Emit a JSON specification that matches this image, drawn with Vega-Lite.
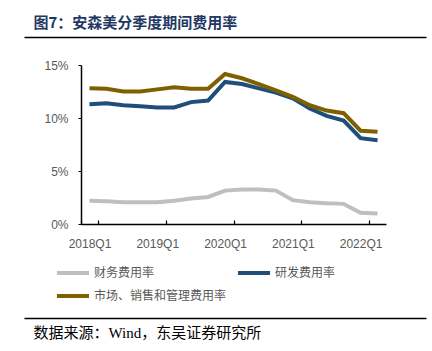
{
  "$schema": "https://vega.github.io/schema/vega-lite/v6.json",
  "autosize": {"type": "none"},
  "width": 305,
  "height": 159,
  "padding": {"left": 81, "top": 65, "right": 46, "bottom": 127},
  "background": "#ffffff",
  "config": {"view": {"stroke": null}},
  "resolve": {"scale": {"x": "independent"}, "axis": {"x": "independent"}},
  "layer": [
    {
      "data": {
        "values": [
          {"quarter": "2018Q1", "series": "财务费用率", "rate": 2.2},
          {"quarter": "2018Q2", "series": "财务费用率", "rate": 2.15},
          {"quarter": "2018Q3", "series": "财务费用率", "rate": 2.05},
          {"quarter": "2018Q4", "series": "财务费用率", "rate": 2.05},
          {"quarter": "2019Q1", "series": "财务费用率", "rate": 2.05},
          {"quarter": "2019Q2", "series": "财务费用率", "rate": 2.2},
          {"quarter": "2019Q3", "series": "财务费用率", "rate": 2.4},
          {"quarter": "2019Q4", "series": "财务费用率", "rate": 2.55},
          {"quarter": "2020Q1", "series": "财务费用率", "rate": 3.15},
          {"quarter": "2020Q2", "series": "财务费用率", "rate": 3.25},
          {"quarter": "2020Q3", "series": "财务费用率", "rate": 3.25},
          {"quarter": "2020Q4", "series": "财务费用率", "rate": 3.15},
          {"quarter": "2021Q1", "series": "财务费用率", "rate": 2.25},
          {"quarter": "2021Q2", "series": "财务费用率", "rate": 2.05},
          {"quarter": "2021Q3", "series": "财务费用率", "rate": 1.95},
          {"quarter": "2021Q4", "series": "财务费用率", "rate": 1.9},
          {"quarter": "2022Q1", "series": "财务费用率", "rate": 1.05},
          {"quarter": "2022Q2", "series": "财务费用率", "rate": 1.0},
          {"quarter": "2018Q1", "series": "研发费用率", "rate": 11.3},
          {"quarter": "2018Q2", "series": "研发费用率", "rate": 11.4},
          {"quarter": "2018Q3", "series": "研发费用率", "rate": 11.2},
          {"quarter": "2018Q4", "series": "研发费用率", "rate": 11.1},
          {"quarter": "2019Q1", "series": "研发费用率", "rate": 11.0},
          {"quarter": "2019Q2", "series": "研发费用率", "rate": 11.0},
          {"quarter": "2019Q3", "series": "研发费用率", "rate": 11.5},
          {"quarter": "2019Q4", "series": "研发费用率", "rate": 11.65},
          {"quarter": "2020Q1", "series": "研发费用率", "rate": 13.4},
          {"quarter": "2020Q2", "series": "研发费用率", "rate": 13.2},
          {"quarter": "2020Q3", "series": "研发费用率", "rate": 12.8},
          {"quarter": "2020Q4", "series": "研发费用率", "rate": 12.4},
          {"quarter": "2021Q1", "series": "研发费用率", "rate": 11.85},
          {"quarter": "2021Q2", "series": "研发费用率", "rate": 10.9},
          {"quarter": "2021Q3", "series": "研发费用率", "rate": 10.2},
          {"quarter": "2021Q4", "series": "研发费用率", "rate": 9.75},
          {"quarter": "2022Q1", "series": "研发费用率", "rate": 8.1},
          {"quarter": "2022Q2", "series": "研发费用率", "rate": 7.9},
          {"quarter": "2018Q1", "series": "市场、销售和管理费用率", "rate": 12.8},
          {"quarter": "2018Q2", "series": "市场、销售和管理费用率", "rate": 12.75},
          {"quarter": "2018Q3", "series": "市场、销售和管理费用率", "rate": 12.5},
          {"quarter": "2018Q4", "series": "市场、销售和管理费用率", "rate": 12.5},
          {"quarter": "2019Q1", "series": "市场、销售和管理费用率", "rate": 12.7},
          {"quarter": "2019Q2", "series": "市场、销售和管理费用率", "rate": 12.9},
          {"quarter": "2019Q3", "series": "市场、销售和管理费用率", "rate": 12.75},
          {"quarter": "2019Q4", "series": "市场、销售和管理费用率", "rate": 12.75},
          {"quarter": "2020Q1", "series": "市场、销售和管理费用率", "rate": 14.15},
          {"quarter": "2020Q2", "series": "市场、销售和管理费用率", "rate": 13.75},
          {"quarter": "2020Q3", "series": "市场、销售和管理费用率", "rate": 13.2},
          {"quarter": "2020Q4", "series": "市场、销售和管理费用率", "rate": 12.6},
          {"quarter": "2021Q1", "series": "市场、销售和管理费用率", "rate": 12.0},
          {"quarter": "2021Q2", "series": "市场、销售和管理费用率", "rate": 11.2},
          {"quarter": "2021Q3", "series": "市场、销售和管理费用率", "rate": 10.7},
          {"quarter": "2021Q4", "series": "市场、销售和管理费用率", "rate": 10.45},
          {"quarter": "2022Q1", "series": "市场、销售和管理费用率", "rate": 8.8},
          {"quarter": "2022Q2", "series": "市场、销售和管理费用率", "rate": 8.7}
        ]
      },
      "mark": {"type": "line", "strokeWidth": 4},
      "encoding": {
        "x": {
          "field": "quarter", "type": "ordinal", "sort": null,
          "scale": {"type": "band", "paddingInner": 0, "paddingOuter": 0},
          "axis": {
            "orient": "bottom",
            "values": ["2018Q1", "2019Q1", "2020Q1", "2021Q1", "2022Q1"],
            "tickBand": "extent", "tickExtra": false, "tickSize": -4,
            "tickColor": "#000000", "domainColor": "#000000", "domainWidth": 1.5, "tickWidth": 1.2,
            "labelAngle": 0, "labelFont": "Liberation Sans", "labelFontSize": 12,
            "labelColor": "#595959", "labelPadding": 18, "title": null, "grid": false
          }
        },
        "y": {
          "field": "rate", "type": "quantitative", "scale": {"domain": [0, 15]},
          "axis": {
            "values": [0, 5, 10, 15], "labelExpr": "datum.value + '%'",
            "tickSize": 3, "tickColor": "#000000", "domainColor": "#000000", "domainWidth": 1.5,
            "labelPadding": 10, "labelFont": "Liberation Sans", "labelFontSize": 12,
            "labelColor": "#595959", "title": null, "grid": false
          }
        },
        "color": {
          "field": "series", "type": "nominal",
          "scale": {
            "domain": ["财务费用率", "研发费用率", "市场、销售和管理费用率"],
            "range": ["#BFBFBF", "#1F4E79", "#7F6000"]
          },
          "legend": {
            "orient": "none", "legendX": -16, "legendY": 200, "title": null,
            "direction": "horizontal", "columns": 2, "columnPadding": 2, "rowPadding": 7,
            "symbolType": "M-2.67,0H2.67", "symbolSize": 144, "symbolStrokeWidth": 4,
            "labelFont": "Noto Sans CJK SC", "labelFontSize": 12, "labelColor": "#595959",
            "labelOffset": 13, "padding": 0
          }
        }
      }
    },
    {
      "data": {"values": [{"v": 0}]},
      "mark": {"type": "point", "opacity": 0},
      "encoding": {
        "x": {
          "field": "v", "type": "quantitative", "scale": {"domain": [0, 1], "range": [-57, 345]},
          "axis": {
            "orient": "top", "offset": 28, "domain": true, "domainColor": "#000000", "domainWidth": 1.5,
            "ticks": false, "labels": false, "grid": false,
            "title": "图7：安森美分季度期间费用率",
            "titleAnchor": "start", "titleAlign": "left", "titleX": -48, "titleY": -15,
            "titleBaseline": "middle", "titleFont": "Noto Sans CJK SC", "titleFontSize": 15,
            "titleFontWeight": "bold", "titleColor": "#1F3864"
          }
        }
      }
    },
    {
      "data": {"values": [{"v": 0}]},
      "mark": {"type": "point", "opacity": 0},
      "encoding": {
        "x": {
          "field": "v", "type": "quantitative", "scale": {"domain": [0, 1], "range": [-57, 345]},
          "axis": {
            "orient": "bottom", "offset": 94, "domain": true, "domainColor": "#000000", "domainWidth": 1.5,
            "ticks": false, "labels": false, "grid": false,
            "title": "数据来源：Wind，东吴证券研究所",
            "titleAnchor": "start", "titleAlign": "left", "titleX": -48, "titleY": 14,
            "titleBaseline": "middle", "titleFont": "Liberation Serif, Noto Sans CJK SC", "titleFontSize": 15,
            "titleFontWeight": "normal", "titleColor": "#000000"
          }
        }
      }
    }
  ]
}
